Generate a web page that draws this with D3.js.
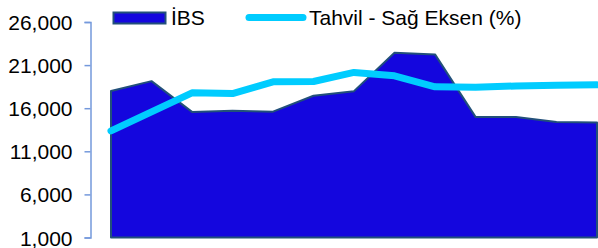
<!DOCTYPE html>
<html>
<head>
<meta charset="utf-8">
<script src="https://cdn.jsdelivr.net/npm/d3@7"></script>
<style>
  body { margin: 0; background: #fff; }
  text { font-family: "Liberation Sans", Arial, sans-serif; fill: #000; }
</style>
</head>
<body>
<div id="chart"></div>
<script>
// periods (x labels are not shown in the chart)
var periods = ["1", "2", "3", "4", "5", "6", "7", "8", "9", "10", "11", "12", "13"];
// İBS index, left axis
var ibs = [18000, 19140, 15570, 15690, 15600, 17450, 17980, 22430, 22240, 14990, 14990, 14400, 14340];
// bond yield, right axis (axis hidden)
var tahvil = [12.36, 14.57, 16.78, 16.7, 18.06, 18.1, 19.15, 18.76, 17.48, 17.42, 17.58, 17.65, 17.71];
var leftTicks = [1000, 6000, 11000, 16000, 21000, 26000];

var width = 598;
var height = 248;

var svg = d3
  .select("#chart")
  .append("svg")
  .attr("width", width)
  .attr("height", height);

var xScale = d3.scalePoint().domain(periods).range([111, 597]);
var yScale = d3.scaleLinear().domain([1000, 26000]).range([237.5, 22]);
var yRight = d3.scaleLinear().domain([0, 25]).range([237.5, 22]);

// area
var area = d3
  .area()
  .x(function(d, i) { return xScale(periods[i]); })
  .y0(yScale(1000))
  .y1(function(d) { return yScale(d); });

svg
  .append("path")
  .datum(ibs)
  .attr("d", area)
  .attr("fill", "#1406de")
  .attr("stroke", "#22507a")
  .attr("stroke-width", 2)
  .attr("stroke-linejoin", "round");

// line
var line = d3
  .line()
  .x(function(d, i) { return xScale(periods[i]); })
  .y(function(d) { return yRight(d); });

svg
  .append("path")
  .datum(tahvil)
  .attr("d", line)
  .attr("fill", "none")
  .attr("stroke", "#00ccff")
  .attr("stroke-width", 7)
  .attr("stroke-linecap", "round")
  .attr("stroke-linejoin", "round");

// left axis
var yAxis = d3
  .axisLeft(yScale)
  .tickValues(leftTicks)
  .tickSize(6)
  .tickPadding(12)
  .tickFormat(d3.format(",d"));

var gy = svg
  .append("g")
  .attr("transform", "translate(90.5,0)")
  .call(yAxis);
gy.select(".domain").attr("stroke", "#7499dc").attr("stroke-width", 1.5);
gy.selectAll(".tick line").attr("stroke", "#7499dc").attr("stroke-width", 1.5);
gy.selectAll(".tick text")
  .attr("font-size", 21)
  .attr("dy", "0.36em")
  .style("font-family", "'Liberation Sans', Arial, sans-serif");

// legend
var legend = svg.append("g");
legend
  .append("rect")
  .attr("x", 113.5)
  .attr("y", 12.5)
  .attr("width", 52)
  .attr("height", 11)
  .attr("fill", "#1406de")
  .attr("stroke", "#22507a")
  .attr("stroke-width", 2);
legend
  .append("text")
  .attr("x", 171)
  .attr("y", 25)
  .attr("font-size", 21)
  .text("İBS");
legend
  .append("line")
  .attr("x1", 249)
  .attr("x2", 303)
  .attr("y1", 17.5)
  .attr("y2", 17.5)
  .attr("stroke", "#00ccff")
  .attr("stroke-width", 7)
  .attr("stroke-linecap", "round");
legend
  .append("text")
  .attr("x", 309)
  .attr("y", 25)
  .attr("font-size", 21)
  .text("Tahvil - Sağ Eksen (%)");
</script>
</body>
</html>
